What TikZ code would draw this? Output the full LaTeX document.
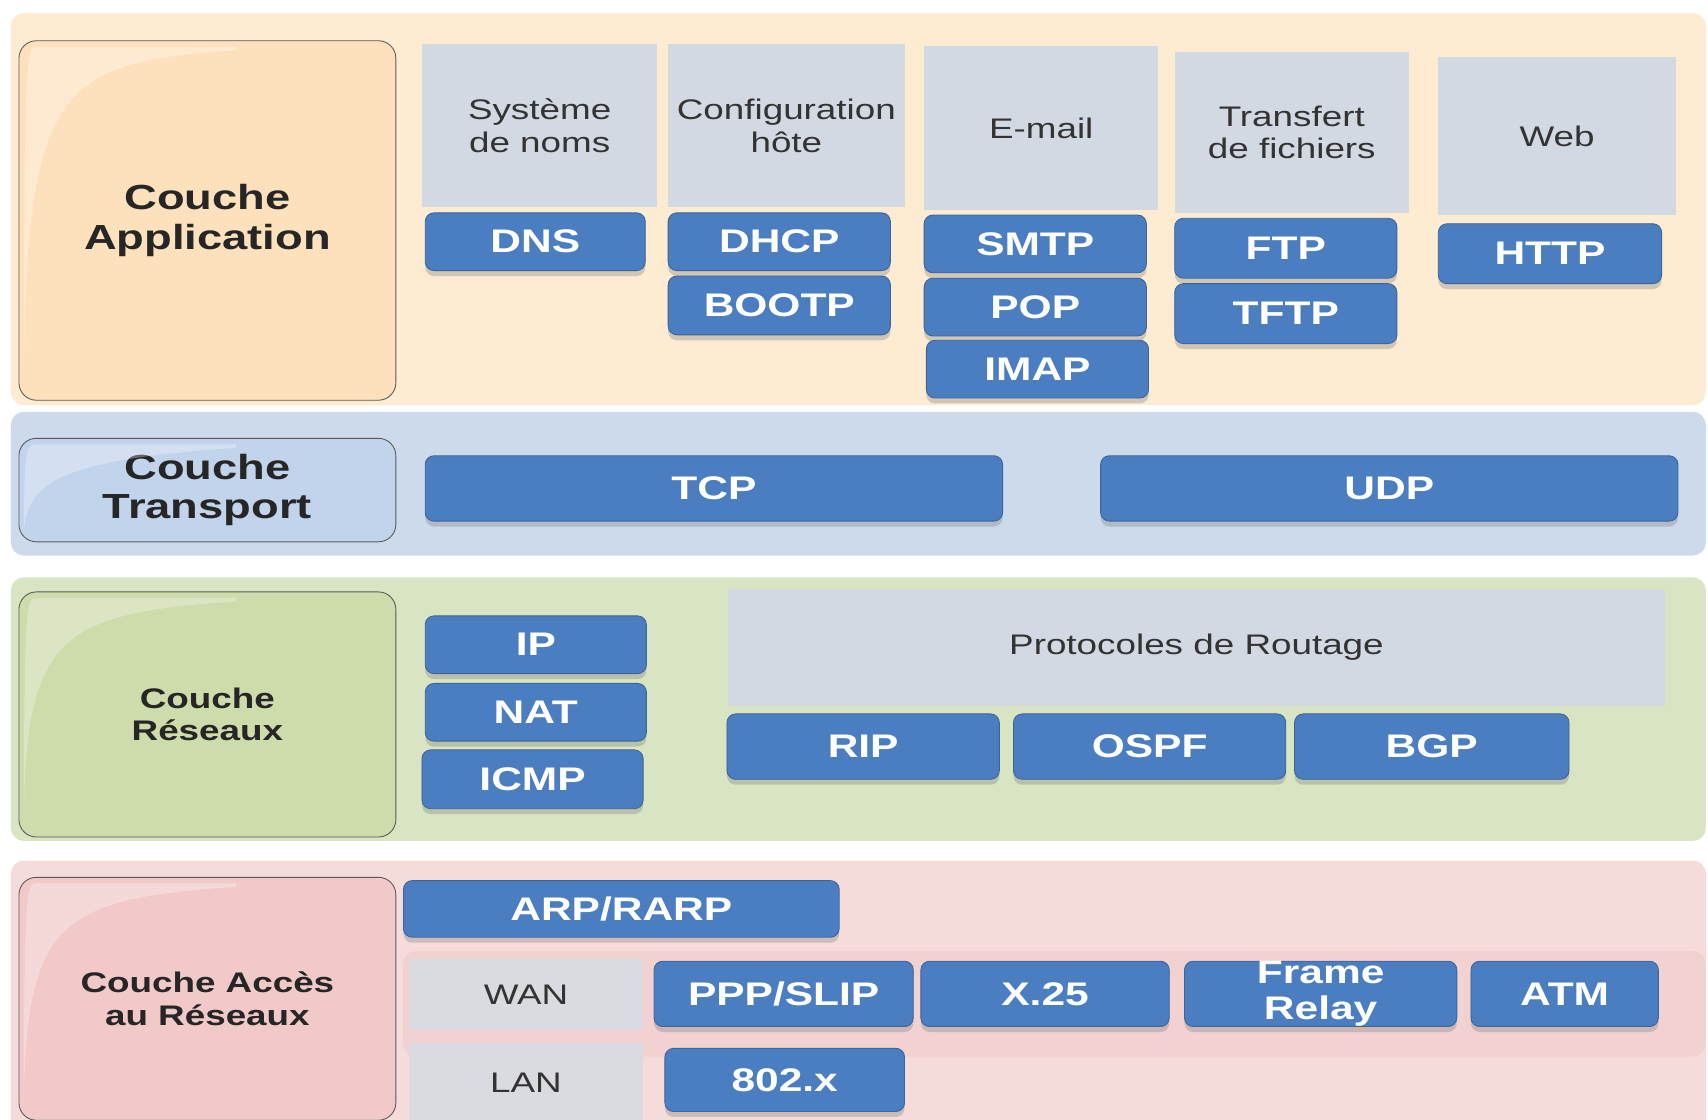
\documentclass[tikz,border=0pt]{standalone}
\usepackage{fontspec}
\setmainfont{Liberation Sans}[FakeStretch=1.3]
\usetikzlibrary{shadows}

\definecolor{appband}{HTML}{FDEBD2}
\definecolor{applabel}{HTML}{FDE1BC}
\definecolor{trband}{HTML}{CCDAEC}
\definecolor{trlabel}{HTML}{C2D4EC}
\definecolor{netband}{HTML}{D9E4C2}
\definecolor{netlabel}{HTML}{CEDBAA}
\definecolor{accband}{HTML}{F5DCDB}
\definecolor{accstrip}{HTML}{F2D2D1}
\definecolor{acclabel}{HTML}{F1C9C9}
\definecolor{headgray}{HTML}{D3D9E2}
\definecolor{btnblue}{HTML}{4A7EC0}

% light streak in the top left corner of a layer box
\newcommand{\gloss}[3]{%
  \fill[white, opacity=.3] (#1+5,#2+#3) .. controls (#1+8,#2+40) and (#1+40,#2+20) .. (#1+200,#2+9)
    -- (#1+200,#2+6) -- (#1+16,#2+6) .. controls (#1+8,#2+6) and (#1+5,#2+10) .. cycle;}

\tikzset{
  band/.style={rounded corners=6pt},
  sz/.style 2 args={minimum width=#1*0.5pt, minimum height=#2*0.5pt, anchor=north west},
  layer/.style={draw=black!65, rounded corners=8pt, inner sep=0pt, align=center,
    text=black!85, font=\bfseries\fontsize{16}{18}\selectfont},
  smalllayer/.style={layer, font=\bfseries\fontsize{13}{15}\selectfont},
  head/.style={fill=headgray, inner sep=0pt, align=center, text=black!80,
    font=\fontsize{13}{15}\selectfont},
  btn/.style={fill=btnblue, draw=btnblue!80!black, rounded corners=4pt, inner sep=0pt,
    align=center, text=white, font=\bfseries\fontsize{15}{16.5}\selectfont,
    drop shadow={shadow xshift=0pt, shadow yshift=-2.5pt, opacity=.35}},
}

\begin{document}
\begin{tikzpicture}[x=0.5pt, y=-0.5pt]
\clip (0,0) rectangle (1568,1028);
\fill[white] (0,0) rectangle (1568,1028);

% bands
\fill[band, appband] (10,12) rectangle (1566,372);
\fill[band, trband] (10,378) rectangle (1566,510);
\fill[band, netband] (10,530) rectangle (1566,772);
\fill[band, accband] (10,790) rectangle (1566,1040);
\fill[band, accstrip] (370,873) rectangle (1566,970);

% application
\node[layer, fill=applabel, sz={346}{330}] (app) at (17,37) {Couche\\Application};
\gloss{17}{37}{300}
\node[head, sz={216}{150}] (names) at (387,40) {Système\\de noms};
\node[head, sz={217}{150}] (hostcfg) at (613,40) {Configuration\\hôte};
\node[head, sz={215}{150}] (mail) at (848,42) {E-mail};
\node[head, sz={215}{148}] (files) at (1078,47) {Transfert\\de fichiers};
\node[head, sz={218}{145}] (web) at (1320,52) {Web};

\node[btn, sz={202}{53}] (dns) at (390,195) {DNS};
\node[btn, sz={204}{53}] (dhcp) at (613,195) {DHCP};
\node[btn, sz={204}{54}] (bootp) at (613,253) {BOOTP};
\node[btn, sz={204}{53}] (smtp) at (848,197) {SMTP};
\node[btn, sz={204}{53}] (pop) at (848,255) {POP};
\node[btn, sz={204}{53}] (imap) at (850,312) {IMAP};
\node[btn, sz={204}{55}] (ftp) at (1078,200) {FTP};
\node[btn, sz={204}{55}] (tftp) at (1078,260) {TFTP};
\node[btn, sz={205}{55}] (http) at (1320,205) {HTTP};

% transport
\node[layer, fill=trlabel, sz={346}{95}] (transport) at (17,402) {Couche\\Transport};
\gloss{17}{402}{85}
\node[btn, sz={530}{60}] (tcp) at (390,418) {TCP};
\node[btn, sz={530}{60}] (udp) at (1010,418) {UDP};

% reseaux
\node[smalllayer, fill=netlabel, sz={346}{225}] (network) at (17,543) {Couche\\Réseaux};
\gloss{17}{543}{200}
\node[btn, sz={203}{53}] (ip) at (390,565) {IP};
\node[btn, sz={203}{53}] (nat) at (390,627) {NAT};
\node[btn, sz={203}{54}] (icmp) at (387,688) {ICMP};
\node[head, sz={860}{108}] (routing) at (668,540) {Protocoles de Routage};
\node[btn, sz={250}{60}] (rip) at (667,655) {RIP};
\node[btn, sz={250}{60}] (ospf) at (930,655) {OSPF};
\node[btn, sz={252}{60}] (bgp) at (1188,655) {BGP};

% acces
\node[smalllayer, fill=acclabel, sz={346}{223}] (access) at (17,805) {Couche Accès\\au Réseaux};
\gloss{17}{805}{200}
\node[btn, sz={400}{52}] (arp) at (370,808) {ARP/RARP};
\node[head, fill=headgray!80!accband, sz={215}{65}] (wan) at (375,880) {WAN};
\node[head, fill=headgray!80!accband, sz={215}{73}] (lan) at (375,957) {LAN};
\node[btn, sz={238}{60}] (ppp) at (600,882) {PPP/SLIP};
\node[btn, sz={228}{60}] (x25) at (845,882) {X.25};
\node[btn, sz={250}{60}] (frame) at (1087,882) {Frame\\Relay};
\node[btn, sz={172}{60}] (atm) at (1350,882) {ATM};
\node[btn, sz={220}{58}] (dot) at (610,962) {802.x};
\end{tikzpicture}
\end{document}
